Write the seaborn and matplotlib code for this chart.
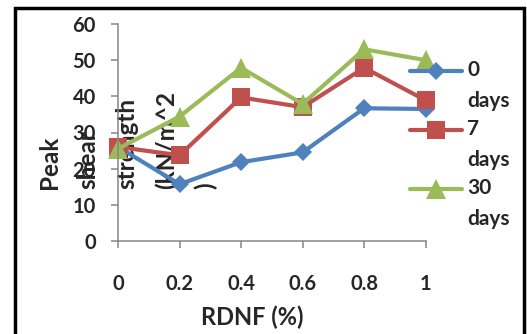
import numpy as np
import pandas as pd
import seaborn as sns
import matplotlib
matplotlib.use("Agg")
import matplotlib.pyplot as plt
from matplotlib.legend_handler import HandlerLine2D
import matplotlib.transforms as mtransforms
from matplotlib.patches import Rectangle
from matplotlib.font_manager import FontProperties

# ---- data ----
rdnf = [0, 0.2, 0.4, 0.6, 0.8, 1]
x_tick_labels = ["0", "0.2", "0.4", "0.6", "0.8", "1"]
days0 = [26.0, 15.7, 21.8, 24.5, 36.7, 36.5]
days7 = [26.0, 23.7, 39.7, 37.0, 47.9, 38.9]
days30 = [25.5, 34.4, 47.9, 37.9, 53.0, 50.0]
series_names = ["0 days", "7 days", "30 days"]
y_ticks = [0, 10, 20, 30, 40, 50, 60]
x_label = "RDNF (%)"
y_label = "Peak\nshear\nstrength\n(kN/m^2\n)"

colors = ["#4F81BD", "#C0504D", "#9BBB59"]
markers = ["D", "s", "^"]
msizes = [9, 12.5, 14]

sns.set_theme(style="white")
plt.rcParams['font.family'] = ['Lato', 'DejaVu Sans']
plt.rcParams['font.weight'] = 'bold'

df = pd.DataFrame({
    "RDNF": rdnf * 3,
    "Strength": days0 + days7 + days30,
    "Series": np.repeat(series_names, len(rdnf)),
})

W, H = 527, 334
DPI = 100
fig = plt.figure(figsize=(W / DPI, H / DPI), dpi=DPI)
fig.patch.set_facecolor("white")
ax = fig.add_axes([118 / W, 1 - 241 / H, (425.7 - 118) / W, (241 - 24) / H])
ax.patch.set_alpha(0)

for name, c, m, ms in zip(series_names, colors, markers, msizes):
    sub = df[df["Series"] == name]
    sns.lineplot(data=sub, x="RDNF", y="Strength", ax=ax, color=c, marker=m,
                 markersize=ms, markeredgewidth=0, linewidth=3, errorbar=None,
                 legend=False, clip_on=False)

ax.set_xlim(0, 1)
ax.set_ylim(0, 60)
ax.set_xticks(rdnf)
ax.set_xticklabels(x_tick_labels)
ax.set_yticks(y_ticks)
ax.set_xlabel("")
ax.set_ylabel("")
for s in ["top", "right"]:
    ax.spines[s].set_visible(False)
for s in ["left", "bottom"]:
    ax.spines[s].set_color("#868686")
    ax.spines[s].set_linewidth(1.1)
ax.tick_params(axis="both", which="major", direction="out", length=5, width=1.1,
               color="#868686", labelsize=14.5, bottom=True, left=True)
ax.tick_params(axis="x", pad=19)
ax.tick_params(axis="y", pad=11)

renderer = fig.canvas.get_renderer()

def asc_px(fs):
    fp = FontProperties(family=['Lato', 'DejaVu Sans'], weight='bold', size=fs)
    w, h, d = renderer.get_text_width_height_descent("lp", fp, ismath=False)
    return h - d

# y label
yl_fs = 17.5
fig.text(127.5 / W, 1 - 189 / H, y_label, rotation=90, ha="center", va="bottom",
         multialignment="left", fontsize=yl_fs, fontweight="bold",
         linespacing=34.75 / asc_px(yl_fs), zorder=-1)

# x label
fig.text(252 / W, 1 - 317 / H, x_label, ha="center", va="center",
         fontsize=17, fontweight="bold")

# legend
leg_fs = 15
leg_pitch = 31
leg_fp = FontProperties(family=['Lato', 'DejaVu Sans'], weight='bold', size=leg_fs)


class TopHandler(HandlerLine2D):
    def __init__(self, dy, **kw):
        super().__init__(**kw)
        self.dy = dy

    def create_artists(self, legend, orig_handle, xdescent, ydescent, width,
                       height, fontsize, trans):
        arts = super().create_artists(legend, orig_handle, xdescent, ydescent,
                                      width, height, fontsize, trans)
        t = mtransforms.Affine2D().translate(0, self.dy) + trans
        for a in arts:
            a.set_transform(t)
        return arts


handles = ax.lines[:3]
labels = [s.replace(" ", "\n") for s in series_names]
shift_pt = (leg_pitch / 2) * 72 / DPI
leg_fs_px = leg_fs * DPI / 72
leg = fig.legend(handles, labels,
                 handler_map={h: TopHandler(shift_pt) for h in handles},
                 loc="upper left", bbox_to_anchor=(410 / W, 1 - 60 / H),
                 frameon=False, borderpad=0, borderaxespad=0,
                 handlelength=52 / leg_fs_px, handletextpad=5 / leg_fs_px,
                 labelspacing=8.5 / leg_fs_px, prop=leg_fp)
for t in leg.get_texts():
    t.set_linespacing((leg_pitch / asc_px(leg_fs)) * 31 / 36)

# outer border
fig.add_artist(Rectangle((15 / W, -0.1), (524 - 15) / W, (1 - 8.5 / H) + 0.1,
                         transform=fig.transFigure, fill=False,
                         edgecolor="black", linewidth=2.5, zorder=10))

fig.savefig("out.png", dpi=DPI)
